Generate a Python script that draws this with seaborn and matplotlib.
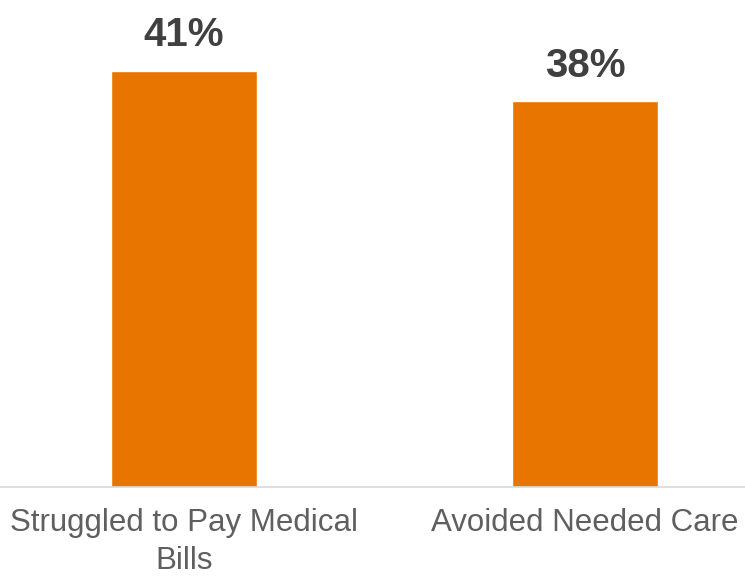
import pandas as pd
import seaborn as sns
import matplotlib.pyplot as plt

categories = ["Struggled to Pay Medical\nBills", "Avoided Needed Care"]
values = [41, 38]
labels = ["41%", "38%"]

df = pd.DataFrame({"category": categories, "value": values})

sns.set_style("white")
plt.rcParams["font.family"] = ["Liberation Sans", "DejaVu Sans"]

fig = plt.figure(figsize=(7.45, 5.78), dpi=100)
ax = fig.add_axes([0, 0.1574, 1, 0.790])

sns.barplot(data=df, x="category", y="value", color="#E87500",
            width=0.364, saturation=1, ax=ax)

ax.set_xlim(-0.459, 1.399)
ax.set_ylim(0, 45)

for cont in ax.containers:
    ax.bar_label(cont, labels=labels, padding=12, fontsize=29,
                 fontweight="bold", color="#404040")

ax.set_xlabel("")
ax.set_ylabel("")
ax.set_yticks([])
ax.tick_params(axis="x", length=0, pad=15, labelsize=22.5, labelcolor="#5f5f5f")
for t in ax.get_xticklabels():
    t.set_linespacing(1.35)
for s in ["top", "left", "right"]:
    ax.spines[s].set_visible(False)
ax.spines["bottom"].set_color("#d9d9d9")
ax.spines["bottom"].set_linewidth(1.2)

fig.savefig("out.png", dpi=100)
